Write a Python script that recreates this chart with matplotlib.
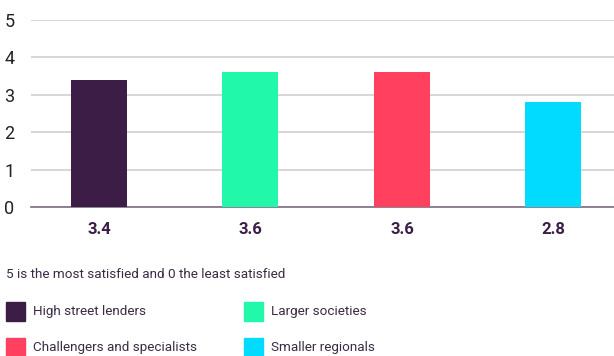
import matplotlib.pyplot as plt
from matplotlib.patches import Rectangle

plt.rcParams['font.family'] = ['Roboto', 'DejaVu Sans']

# Data
groups = ['High street lenders', 'Larger societies', 'Challengers and specialists', 'Smaller regionals']
scores = [3.4, 3.6, 3.6, 2.8]
colors = ['#3c1d46', '#21f8aa', '#ff415f', '#00dbff']
y_ticks = [0, 1, 2, 3, 4, 5]
note = '5 is the most satisfied and 0 the least satisfied'

W, H = 614, 356
fig = plt.figure(figsize=(W / 100, H / 100), dpi=100)
ax = fig.add_axes([31 / W, 1 - 207 / H, 1 - 31 / W, (207 - 20) / H])

x = list(range(len(scores)))
ax.bar(x, scores, width=0.37, color=colors, zorder=3)
ax.set_xlim(-0.449, 3.40)
ax.set_ylim(0, 5)
ax.set_yticks(y_ticks)
ax.set_yticklabels([str(t) for t in y_ticks], fontsize=13, color='#222222')
ax.tick_params(axis='y', length=0, pad=12)
ax.set_xticks([])
ax.grid(axis='y', color='#d3ccd6', linewidth=1.2, zorder=0)
for s in ['top', 'right', 'left']:
    ax.spines[s].set_visible(False)
ax.spines['bottom'].set_color('#7a6d80')
ax.spines['bottom'].set_linewidth(1.2)

# value labels under bars
for xi, v in zip(x, scores):
    ax.annotate(f'{v:.1f}', (xi, 0), xytext=(0, -16), textcoords='offset points',
                ha='center', va='center', fontsize=12, fontweight='bold', color='#3c1d46')

# note + legend
fig.text(6 / W, 1 - 274 / H, note, fontsize=9.7, color='#3b2a45', va='center', ha='left')
col_x = [6, 244]
row_y = [311, 347]
for i, (name, c) in enumerate(zip(groups, colors)):
    cx = col_x[i % 2]
    cy = row_y[i // 2]
    fig.add_artist(Rectangle((cx / W, 1 - (cy + 9.5) / H), 19 / W, 19 / H,
                             transform=fig.transFigure, color=c))
    fig.text((cx + 27) / W, 1 - cy / H, name, fontsize=9.7, color='#3b2a45',
             va='center', ha='left')

fig.savefig('out.png', dpi=100)
